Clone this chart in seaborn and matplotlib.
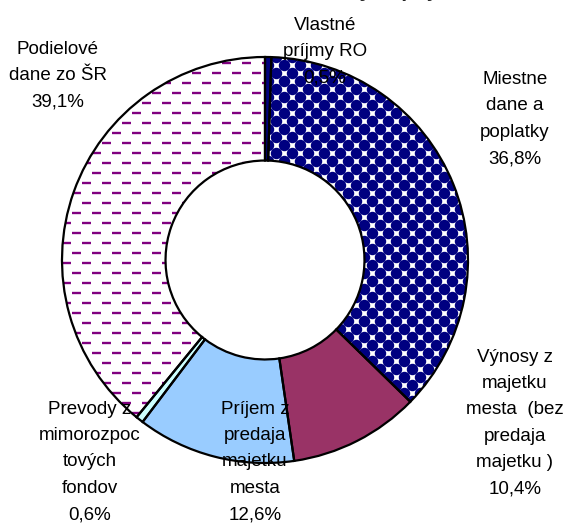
import matplotlib
matplotlib.use("Agg")
import matplotlib.pyplot as plt
from matplotlib.collections import LineCollection
import numpy as np
import seaborn as sns

sns.set_theme(style="white")
plt.rcParams['font.family'] = ['Liberation Sans', 'DejaVu Sans']

# data (clockwise from 12 o'clock)
labels = ["Vlastné\npríjmy RO", "Miestne\ndane a\npoplatky",
          "Výnosy z\nmajetku\nmesta  (bez\npredaja\nmajetku )",
          "Príjem z\npredaja\nmajetku\nmesta",
          "Prevody z\nmimorozpoc\ntových\nfondov",
          "Podielové\ndane zo ŠR"]
shares = [0.5, 36.8, 10.4, 12.6, 0.6, 39.1]
colors = ["#000080", "#ffffff", "#993366", "#99ccff", "#ccffff", "#ffffff"]

# label anchor points (figure px, from top-left)
lab_pos = [(325, 52), (515, 119), (515, 423), (255, 462), (90, 462), (58, 76)]

W, H = 570, 526
CX, CY, R = 265, 260, 203
px = 1.0 / R

fig = plt.figure(figsize=(W / 100, H / 100), dpi=100)
ax = fig.add_axes([0, 0, 1, 1])

wedges, _ = ax.pie(shares, colors=colors, startangle=90, counterclock=False,
                   wedgeprops=dict(width=0.51, linewidth=0))

# dotted navy texture for "Miestne dane a poplatky"
gx, gy = [], []
for i, y in enumerate(np.arange(-1.05, 1.05, 8 * px)):
    for x in np.arange(-1.05, 1.05, 16 * px) + (i % 2) * 8 * px:
        gx.append(x)
        gy.append(y)
dots = ax.scatter(gx, gy, s=68, color="#000080", linewidths=0, zorder=2)
dots.set_clip_path(wedges[1])

# dashed purple texture for "Podielové dane zo ŠR"
segs = []
for i, y in enumerate(np.arange(-1.05, 1.05, 10 * px)):
    for x in np.arange(-1.05, 1.05, 20 * px) + (i % 2) * 10 * px:
        segs.append([(x, y), (x + 9 * px, y)])
dash = LineCollection(segs, colors="#800080", linewidths=1.7, zorder=2)
ax.add_collection(dash)
dash.set_clip_path(wedges[5])

# outlines on top
outl, _ = ax.pie(shares, startangle=90, counterclock=False,
                 wedgeprops=dict(width=0.51, fill=False, edgecolor="black",
                                 linewidth=1.6))
for w in outl:
    w.set_zorder(3)

ax.set_xlim(-CX / R, (W - CX) / R)
ax.set_ylim(-(H - CY) / R, CY / R)
ax.set_aspect("equal")
ax.axis("off")

for lab, v, (x, y) in zip(labels, shares, lab_pos):
    txt = lab + "\n" + f"{v:.1f}".replace(".", ",") + "%"
    fig.text(x / W, 1 - y / H, txt, ha="center", va="center",
             fontsize=13.5, linespacing=1.72, color="black", zorder=5)

# title, mostly cut off at the top edge (as in the source image)
fig.text(345 / W, 1 + 3 / H, "Štruktúra bežných príjmov", ha="center",
         va="baseline", fontsize=15, fontweight="bold")

fig.savefig("out.png", dpi=100)
